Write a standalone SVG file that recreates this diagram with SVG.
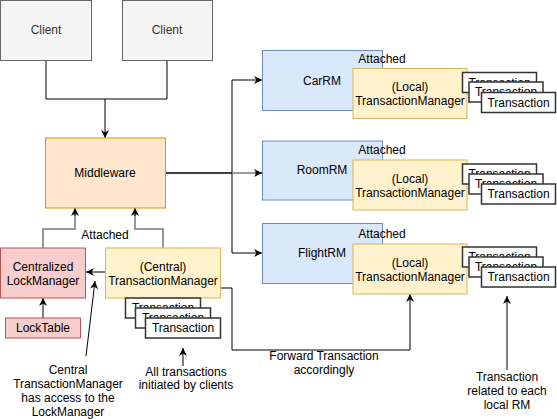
<svg xmlns="http://www.w3.org/2000/svg" width="557" height="419" viewBox="0 0 557 419">
<defs>
<marker id="arr" viewBox="0 0 10 10" refX="10" refY="5" markerWidth="8" markerHeight="8" markerUnits="userSpaceOnUse" orient="auto">
<path d="M0,0 L10,5 L0,10 L3,5 z" fill="#000"/>
</marker>
<style>
text{font-family:"Liberation Sans",Arial,Helvetica,sans-serif;font-size:12px;fill:#000;text-anchor:middle}
.client{fill:#f5f5f5;stroke:#666666}
.client-t{fill:#333333}
.rm{fill:#dae8fc;stroke:#6c8ebf}
.tm{fill:#fff2cc;stroke:#d6b656}
.mw{fill:#ffe6cc;stroke:#d79b00}
.red{fill:#f8cecc;stroke:#b85450}
.tx{fill:#ffffff;stroke:#333333;stroke-width:1.5}
.e{fill:none;stroke:#000;stroke-width:1}
.g{fill:none;stroke:#777;stroke-width:1.5}
</style>
</defs>
<rect width="557" height="419" fill="#ffffff"/>

<g id="connectors">
<polyline class="e" points="46,60 46,99 167,99 167,60"/>
<path class="e" d="M105,99 V138" marker-end="url(#arr)"/>
<path class="e" d="M166,173 H232 V80 H262" marker-end="url(#arr)"/>
<path class="e" d="M166,173 H232 V253 H262" marker-end="url(#arr)"/>
<path class="g" d="M232,173 H262" stroke-width="1"/>
<path class="e" d="M255,173 H262" marker-end="url(#arr)"/>
<path class="g" d="M43,248 V229 H75 V214"/>
<path class="e" d="M75,216 V208" marker-end="url(#arr)"/>
<path class="g" d="M163,248 V229 H135 V214"/>
<path class="e" d="M135,216 V208" marker-end="url(#arr)"/>
<path class="e" d="M105,272 H86" marker-end="url(#arr)"/>
<path class="e" d="M43,318 V298" stroke-width="2" marker-end="url(#arr)"/>
<path class="e" d="M220,288 H232 V350 H410 V294" marker-end="url(#arr)"/>
<path class="e" d="M86,356 L95,281" marker-end="url(#arr)"/>
<path class="e" d="M183,366 V348" marker-end="url(#arr)"/>
<path class="e" d="M507,370 V296" marker-end="url(#arr)"/>
<text x="105" y="239">Attached</text>
<text x="324" y="360">Forward Transaction</text>
<text x="324" y="374">accordingly</text>
</g>

<g id="client1"><rect class="client" x="0.5" y="0.5" width="91" height="60"/><text class="client-t" x="46" y="34">Client</text></g>
<g id="client2"><rect class="client" x="122.5" y="0.5" width="90" height="60"/><text class="client-t" x="167" y="34">Client</text></g>
<g id="middleware"><rect class="mw" x="45.5" y="138" width="120" height="70"/><text x="105" y="177">Middleware</text></g>

<g id="carrm">
<rect class="rm" x="262.5" y="50.5" width="120" height="60"/><text x="322" y="85">CarRM</text>
<text x="382" y="63">Attached</text>
<rect class="tm" x="353" y="68.5" width="114" height="50"/><text x="410" y="91">(Local)</text><text x="410" y="105">TransactionManager</text>
<rect class="tx" x="462.5" y="72.5" width="74" height="20"/><text x="499.5" y="86.5">Transaction</text>
<rect class="tx" x="469" y="82" width="74" height="20"/><text x="506" y="96">Transaction</text>
<rect class="tx" x="481.5" y="92.5" width="74" height="20"/><text x="518.5" y="106.5">Transaction</text>
</g>

<g id="roomrm">
<rect class="rm" x="262.5" y="141" width="120" height="59"/><text x="322" y="174">RoomRM</text>
<text x="382" y="154">Attached</text>
<rect class="tm" x="353" y="160" width="114" height="50"/><text x="410" y="182.5">(Local)</text><text x="410" y="196.5">TransactionManager</text>
<rect class="tx" x="462.5" y="164" width="74" height="20"/><text x="499.5" y="178">Transaction</text>
<rect class="tx" x="469" y="174" width="74" height="20"/><text x="506" y="188">Transaction</text>
<rect class="tx" x="481.5" y="184" width="74" height="20"/><text x="518.5" y="198">Transaction</text>
</g>

<g id="flightrm">
<rect class="rm" x="262.5" y="223.5" width="120" height="60"/><text x="322" y="257">FlightRM</text>
<text x="382" y="238">Attached</text>
<rect class="tm" x="353" y="244" width="114" height="50"/><text x="410" y="266.5">(Local)</text><text x="410" y="280.5">TransactionManager</text>
<rect class="tx" x="462.5" y="247" width="74" height="20"/><text x="499.5" y="261">Transaction</text>
<rect class="tx" x="469" y="257" width="74" height="20"/><text x="506" y="271">Transaction</text>
<rect class="tx" x="481.5" y="267" width="74" height="20"/><text x="518.5" y="281">Transaction</text>
</g>

<g id="lockmanager"><rect class="red" x="0.5" y="248" width="85" height="50"/><text x="43" y="271">Centralized</text><text x="43" y="285">LockManager</text></g>
<g id="locktable"><rect class="red" x="5.5" y="318" width="75" height="20"/><text x="43" y="332">LockTable</text></g>

<g id="centraltm">
<rect class="tm" x="105.5" y="248" width="115" height="50"/><text x="163" y="271">(Central)</text><text x="163" y="285">TransactionManager</text>
</g>
<g id="centraltx">
<rect class="tx" x="125.5" y="298" width="75" height="20"/><text x="163" y="312">Transaction</text>
<rect class="tx" x="135.5" y="308" width="75" height="20"/><text x="173" y="322">Transaction</text>
<rect class="tx" x="145.5" y="318" width="75" height="20"/><text x="183" y="332">Transaction</text>
</g>

<g id="note-lock">
<text x="68" y="374">Central</text>
<text x="68" y="388">TransactionManager</text>
<text x="68" y="402">has access to the</text>
<text x="68" y="416">LockManager</text>
</g>
<g id="note-all">
<text x="186" y="376">All transactions</text>
<text x="186" y="389">initiated by clients</text>
</g>
<g id="note-local">
<text x="507" y="381">Transaction</text>
<text x="507" y="395">related to each</text>
<text x="507" y="409">local RM</text>
</g>
</svg>
